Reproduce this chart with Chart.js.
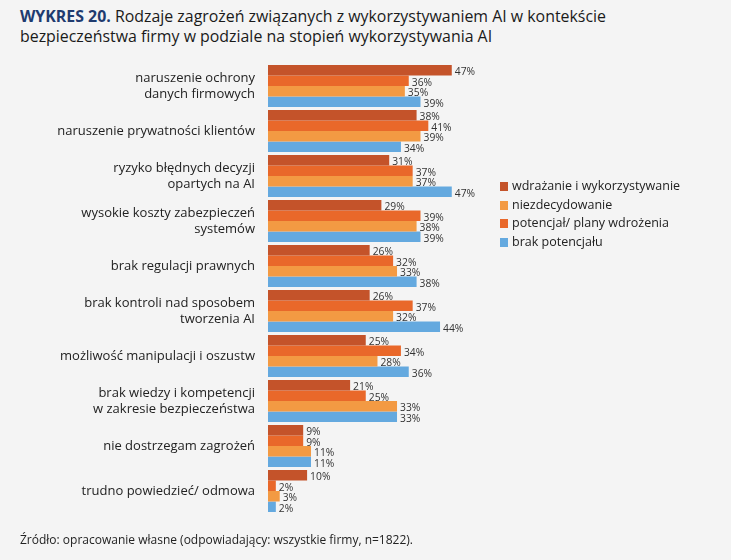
<!DOCTYPE html>
<html lang="pl">
<head>
<meta charset="utf-8">
<script src="https://cdn.jsdelivr.net/npm/chart.js@4/dist/chart.umd.min.js"></script>
<style>
  body { margin: 0; background: #f4f4f4; font-family: 'Open Sans', sans-serif; color: #222; }
  #wrap { position: relative; width: 731px; height: 560px; overflow: hidden; }
  #title { position: absolute; left: 20px; top: 6px; font-size: 15.9px; line-height: 20px; color: #1a1a1a; }
  #title b { color: #1f3b6f; }
  #legend { position: absolute; left: 500px; top: 177px; font-size: 12.5px; line-height: 18.6px; color: #222; }
  #legend div { white-space: nowrap; }
  #legend span { display: inline-block; width: 8px; height: 9px; margin-right: 4px; vertical-align: -1px; }
  #source { position: absolute; left: 20px; top: 531px; font-size: 12px; color: #222; }
  canvas { position: absolute; left: 0; top: 0; }
</style>
</head>
<body>
<div id="wrap">
  <div id="title"><b>WYKRES 20.</b> Rodzaje zagrożeń związanych z wykorzystywaniem AI w kontekście<br>bezpieczeństwa firmy w podziale na stopień wykorzystywania AI</div>
  <canvas id="chart" width="731" height="560"></canvas>
  <div id="legend"></div>
  <div id="source">Źródło: opracowanie własne (odpowiadający: wszystkie firmy, n=1822).</div>
</div>
<script>
const categories = [
  ['naruszenie ochrony', 'danych firmowych'],
  'naruszenie prywatności klientów',
  ['ryzyko błędnych decyzji', 'opartych na AI'],
  ['wysokie koszty zabezpieczeń', 'systemów'],
  'brak regulacji prawnych',
  ['brak kontroli nad sposobem', 'tworzenia AI'],
  'możliwość manipulacji i oszustw',
  ['brak wiedzy i kompetencji', 'w zakresie bezpieczeństwa'],
  'nie dostrzegam zagrożeń',
  'trudno powiedzieć/ odmowa'
];

const wdrazanie = [47, 38, 31, 29, 26, 26, 25, 21, 9, 10];
const potencjal = [36, 41, 37, 39, 32, 37, 34, 25, 9, 2];
const niezdecydowanie = [35, 39, 37, 38, 33, 32, 28, 33, 11, 3];
const brakPotencjalu = [39, 34, 47, 39, 38, 44, 36, 33, 11, 2];

const datasets = [
  { label: 'wdrażanie i wykorzystywanie', data: wdrazanie, backgroundColor: '#c4532a', legendOrder: 0 },
  { label: 'potencjał/ plany wdrożenia', data: potencjal, backgroundColor: '#e9682a', legendOrder: 2 },
  { label: 'niezdecydowanie', data: niezdecydowanie, backgroundColor: '#f39a43', legendOrder: 1 },
  { label: 'brak potencjału', data: brakPotencjalu, backgroundColor: '#64a9df', legendOrder: 3 }
];

// etykiety z wartościami na końcu słupków
const valueLabels = {
  id: 'valueLabels',
  afterDatasetsDraw(chart) {
    const ctx = chart.ctx;
    ctx.save();
    ctx.font = '10.3px "Open Sans", sans-serif';
    ctx.fillStyle = '#333';
    ctx.textBaseline = 'middle';
    ctx.textAlign = 'left';
    chart.data.datasets.forEach((ds, i) => {
      chart.getDatasetMeta(i).data.forEach((bar, j) => {
        ctx.fillText(ds.data[j] + '%', bar.x + 3, bar.y + 2);
      });
    });
    ctx.restore();
  }
};

new Chart(document.getElementById('chart'), {
  type: 'bar',
  data: { labels: categories, datasets: datasets },
  options: {
    indexAxis: 'y',
    responsive: false,
    animation: false,
    layout: { padding: { top: 63.5, bottom: 46.5, left: 0, right: 267.5 } },
    datasets: { bar: { barPercentage: 1, categoryPercentage: 0.933 } },
    scales: {
      x: { min: 0, max: 50, display: false },
      y: {
        grid: { display: false, drawTicks: false },
        border: { display: false },
        ticks: {
          padding: 13,
          color: '#222',
          font: { family: 'Open Sans', size: 13, lineHeight: 1.25 }
        },
        afterFit(scale) { scale.width = 268; }
      }
    },
    plugins: {
      legend: { display: false },
      tooltip: { enabled: false }
    }
  },
  plugins: [valueLabels]
});

const legend = document.getElementById('legend');
datasets.slice().sort((a, b) => a.legendOrder - b.legendOrder).forEach(ds => {
  const row = document.createElement('div');
  row.innerHTML = '<span style="background:' + ds.backgroundColor + '"></span>' + ds.label;
  legend.appendChild(row);
});
</script>
</body>
</html>
